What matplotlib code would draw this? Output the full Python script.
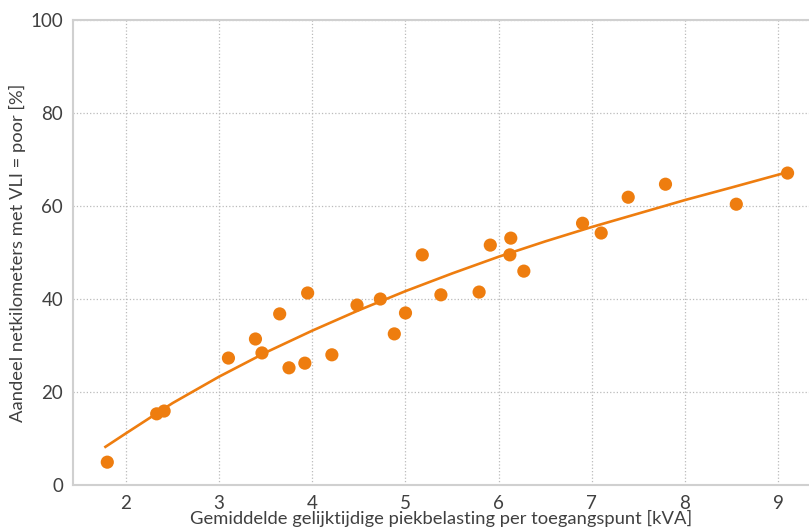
import matplotlib
matplotlib.use("Agg")
import matplotlib.pyplot as plt

# gemiddelde gelijktijdige piekbelasting [kVA] vs aandeel netkilometers met VLI = poor [%]
piek_kva = [1.80, 2.33, 2.41, 3.10, 3.39, 3.46, 3.65, 3.75, 3.92, 3.95,
            4.21, 4.48, 4.73, 4.88, 5.00, 5.18, 5.38, 5.79, 5.91, 6.12,
            6.13, 6.27, 6.90, 7.10, 7.39, 7.79, 8.55, 9.10]
aandeel_poor = [4.9, 15.3, 15.9, 27.3, 31.4, 28.4, 36.8, 25.2, 26.2, 41.3,
                28.0, 38.7, 40.0, 32.5, 37.0, 49.5, 40.9, 41.5, 51.6, 49.5,
                53.1, 46.0, 56.3, 54.2, 61.9, 64.7, 60.4, 67.1]

# trendlijn
trend_x = [1.78, 2.0, 2.5, 3.0, 3.5, 4.0, 4.5, 5.0, 5.5, 6.0,
           6.5, 7.0, 7.5, 8.0, 8.5, 9.1]
trend_y = [8.2, 11.1, 17.6, 23.3, 28.5, 33.2, 37.6, 41.7, 45.5, 49.1,
           52.4, 55.5, 58.4, 61.3, 64.0, 67.3]

x_ticks = [2, 3, 4, 5, 6, 7, 8, 9]
y_ticks = [0, 20, 40, 60, 80, 100]

oranje = '#EE7D0F'
tekst = '#404040'
rand = '#D0D0D0'

plt.rcParams['font.family'] = ['Lato', 'DejaVu Sans']

fig = plt.figure(figsize=(8.09, 5.30), dpi=100)
ax = fig.add_axes([0.090, 0.085, 0.910, 0.877])

ax.plot(trend_x, trend_y, color=oranje, lw=1.9, zorder=3)
ax.scatter(piek_kva, aandeel_poor, s=90, color=oranje, edgecolors='none', zorder=4)

ax.set_xlim(1.43, 9.33)
ax.set_ylim(0, 100)
ax.set_xticks(x_ticks)
ax.set_yticks(y_ticks)
ax.tick_params(length=0, labelsize=13.5, colors=tekst, pad=7)

ax.grid(True, linestyle=':', color='#BBBBBB', lw=0.9)
ax.set_axisbelow(True)
for side in ['left', 'bottom', 'top']:
    ax.spines[side].set_color(rand)
    ax.spines[side].set_linewidth(1.5)
ax.spines['right'].set_visible(False)

ax.set_xlabel('Gemiddelde gelijktijdige piekbelasting per toegangspunt [kVA]',
              fontsize=13.2, color=tekst, labelpad=-1)
ax.set_ylabel('Aandeel netkilometers met VLI = poor [%]',
              fontsize=13.2, color=tekst, labelpad=3)

fig.savefig('out.png', dpi=100)
